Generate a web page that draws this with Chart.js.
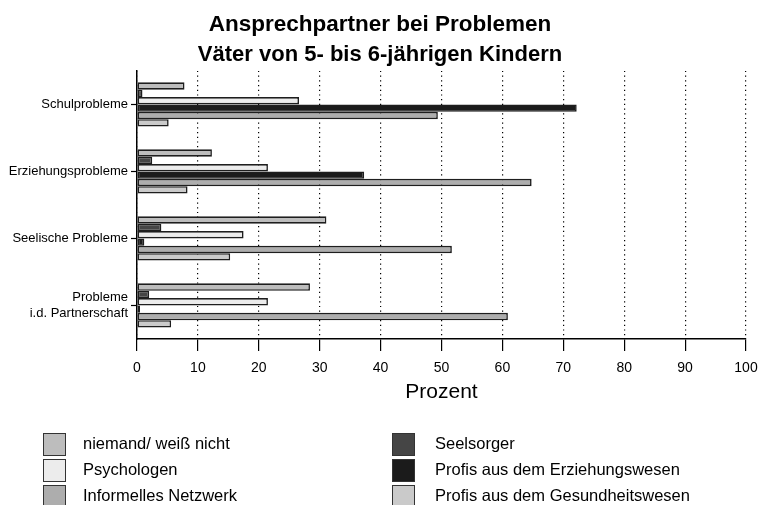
<!DOCTYPE html>
<html>
<head>
<meta charset="utf-8">
<script src="https://cdn.jsdelivr.net/npm/chart.js@4.4.1/dist/chart.umd.min.js"></script>
<style>
  html, body { margin: 0; padding: 0; background: #fff; }
  #wrap { width: 760px; height: 505px; position: relative; }
</style>
</head>
<body>
<div id="wrap"><canvas id="chart"></canvas></div>
<script>
// Werte in Prozent
var categories = ['Schulprobleme', 'Erziehungsprobleme', 'Seelische Probleme', ['Probleme', 'i.d. Partnerschaft']];
var seriesNames = ['niemand/ weiß nicht', 'Seelsorger', 'Psychologen', 'Profis aus dem Erziehungswesen', 'Informelles Netzwerk', 'Profis aus dem Gesundheitswesen'];
var niemand = [7.8, 12.3, 31.1, 28.4];
var seelsorger = [0.9, 2.5, 4.0, 2.0];
var psychologen = [26.6, 21.5, 17.5, 21.5];
var erziehung = [72.2, 37.3, 1.2, 0.5];
var informell = [49.4, 64.8, 51.7, 60.9];
var gesundheit = [5.2, 8.3, 15.3, 5.6];
var xTicks = [0, 10, 20, 30, 40, 50, 60, 70, 80, 90, 100];

var colors = ['#bdbdbd', '#454545', '#ececec', '#1b1b1b', '#adadad', '#cacaca'];
var FONT = '"Liberation Sans", Arial, sans-serif';

var values = [niemand, seelsorger, psychologen, erziehung, informell, gesundheit];
var datasets = values.map(function (v, i) {
  return {
    label: seriesNames[i],
    data: v,
    backgroundColor: colors[i],
    borderColor: '#1e1e1e',
    borderWidth: 1.6,
    borderSkipped: false,
    barPercentage: 1.0,
    categoryPercentage: 0.66
  };
});

// Legende in zwei Spalten unter dem Diagramm
var legendPlugin = {
  id: 'twoColLegend',
  afterDraw: function (chart) {
    var ctx = chart.ctx;
    var colX = [43, 392];
    var textX = [83, 435];
    var rowY = [433, 459, 485];
    ctx.save();
    ctx.font = '16.5px ' + FONT;
    ctx.textBaseline = 'middle';
    chart.data.datasets.forEach(function (ds, i) {
      var c = i % 2, r = Math.floor(i / 2);
      ctx.fillStyle = ds.backgroundColor;
      ctx.fillRect(colX[c], rowY[r], 23, 23);
      ctx.strokeStyle = '#333';
      ctx.lineWidth = 1;
      ctx.strokeRect(colX[c] + 0.5, rowY[r] + 0.5, 22, 22);
      ctx.fillStyle = '#000';
      ctx.fillText(ds.label, textX[c], rowY[r] + 11.5);
    });
    ctx.restore();
  }
};

new Chart(document.getElementById('chart'), {
  type: 'bar',
  data: { labels: categories, datasets: datasets },
  options: {
    indexAxis: 'y',
    responsive: true,
    maintainAspectRatio: false,
    animation: false,
    layout: { padding: { left: 0, right: 0, top: 0, bottom: 86 } },
    plugins: {
      legend: { display: false },
      tooltip: { enabled: false },
      title: {
        display: true,
        text: 'Ansprechpartner bei Problemen',
        color: '#000',
        font: { family: FONT, size: 22.5, weight: 'bold' },
        padding: { top: 11, bottom: 3.5 }
      },
      subtitle: {
        display: true,
        text: 'Väter von 5- bis 6-jährigen Kindern',
        color: '#000',
        font: { family: FONT, size: 22, weight: 'bold' },
        padding: { top: 0, bottom: 3 }
      }
    },
    scales: {
      x: {
        min: 0,
        max: 100,
        afterBuildTicks: function (scale) {
          scale.ticks = xTicks.map(function (v) { return { value: v }; });
        },
        afterFit: function (scale) {
          scale.height = 80;
          scale.paddingLeft = 0;
          scale.paddingRight = 14;
        },
        ticks: { color: '#000', font: { family: FONT, size: 14 }, padding: 9, maxRotation: 0 },
        grid: { color: '#000', lineWidth: 1.2, tickLength: 12, tickColor: '#000', tickWidth: 1.2, tickBorderDash: [] },
        border: { display: true, color: '#000', width: 1.5, dash: [1.2, 3.5] },
        title: {
          display: true,
          text: 'Prozent',
          color: '#000',
          font: { family: FONT, size: 21 },
          padding: { top: 0, bottom: 14 }
        }
      },
      y: {
        afterFit: function (scale) { scale.width = 137; },
        ticks: { color: '#000', font: { family: FONT, size: 13 }, padding: 3 },
        grid: { display: true, drawOnChartArea: false, offset: false, tickLength: 6, tickColor: '#000', tickWidth: 1.2 },
        border: { display: true, color: '#000', width: 1.5 }
      }
    }
  },
  plugins: [legendPlugin]
});
</script>
</body>
</html>
